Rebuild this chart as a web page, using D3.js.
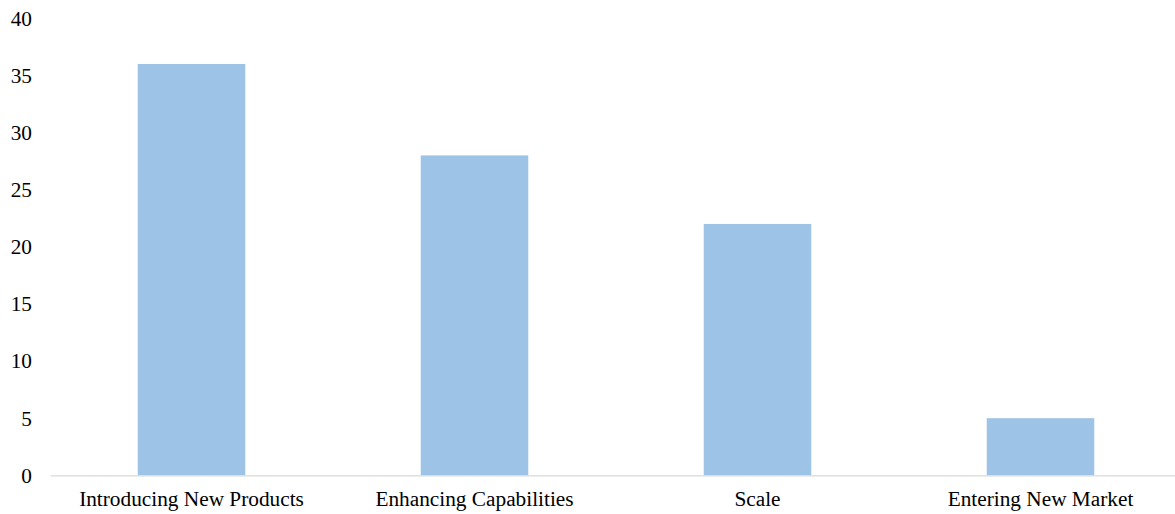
<!DOCTYPE html>
<html>
<head>
<meta charset="utf-8">
<script src="https://cdn.jsdelivr.net/npm/d3@7"></script>
<style>
  html, body { margin: 0; padding: 0; background: #fff; }
  svg { display: block; }
  text { font-family: "Liberation Serif", "Times New Roman", serif; fill: #000; }
</style>
</head>
<body>
<svg id="chart" width="1175" height="514"></svg>
<script>
// Reasons for acquisitions (count of deals)
const categories = ["Introducing New Products", "Enhancing Capabilities", "Scale", "Entering New Market"];
const values = [36, 28, 22, 5];
const yTicks = [0, 5, 10, 15, 20, 25, 30, 35, 40];

const svg = d3.select("#chart");
const plotLeft = 50, plotRight = 1182, plotTop = 18.3, plotBottom = 475.3;
const fontSize = 21.3;

const x = d3.scaleBand()
  .domain(categories)
  .range([plotLeft, plotRight])
  .paddingInner(0.62)
  .paddingOuter(0.31);

const y = d3.scaleLinear()
  .domain([0, 40])
  .range([plotBottom, plotTop]);

// bars
svg.append("g")
  .selectAll("rect")
  .data(categories)
  .join("rect")
  .attr("x", d => x(d))
  .attr("width", x.bandwidth())
  .attr("y", (d, i) => y(values[i]))
  .attr("height", (d, i) => plotBottom - y(values[i]))
  .attr("fill", "#9dc3e6");

// y axis labels (no axis line, no ticks)
const yAxis = svg.append("g")
  .attr("transform", `translate(${plotLeft - 18},0)`)
  .call(d3.axisLeft(y).tickValues(yTicks).tickSize(0).tickPadding(0));
yAxis.select(".domain").remove();
yAxis.selectAll("text")
  .attr("font-size", fontSize)
  .attr("dy", "0.32em")
  .style("font-family", "'Liberation Serif', serif")
  .attr("fill", "#000");

// x axis
const xAxis = svg.append("g")
  .attr("transform", `translate(0,${plotBottom})`)
  .call(d3.axisBottom(x).tickSize(0).tickPadding(16));
xAxis.select(".domain")
  .attr("stroke", "#d9d9d9")
  .attr("stroke-width", 1.3);
xAxis.selectAll("text")
  .attr("font-size", fontSize)
  .style("font-family", "'Liberation Serif', serif")
  .attr("fill", "#000");
</script>
</body>
</html>
